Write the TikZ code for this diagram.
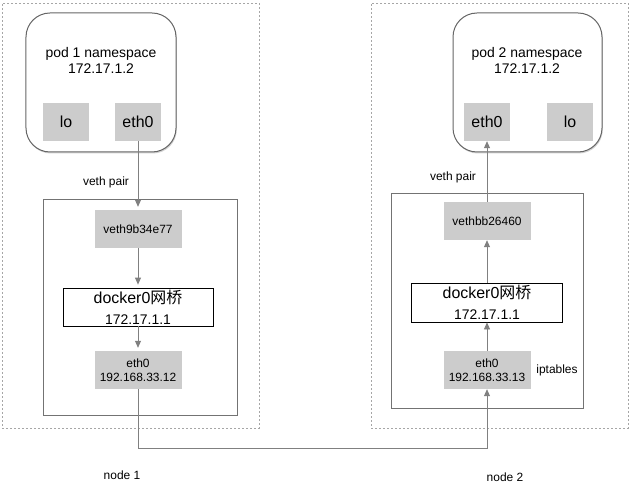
\documentclass[tikz,border=0pt]{standalone}
\usepackage{fontspec}
\setmainfont{Liberation Sans}
\newfontfamily\cjk{Noto Sans CJK SC}
\usetikzlibrary{arrows.meta,shadows}
\begin{document}
\begin{tikzpicture}[x=1bp,y=-1bp,
  outerbox/.style={draw=black!35, dash pattern=on 2bp off 2bp, line width=0.6bp, inner sep=0},
  podbox/.style={draw=black!60, line width=1bp, rounded corners=24bp, fill=white, inner sep=0,
    drop shadow={shadow xshift=0.8bp, shadow yshift=-1.5bp, fill=black!30, opacity=0.6}},
  hostbox/.style={draw=black!55, line width=0.8bp, inner sep=0},
  gbox/.style={fill=black!20, draw=none, inner sep=0, minimum width=46bp, minimum height=38bp, font=\fontsize{16}{19}\selectfont},
  ifbox/.style={fill=black!20, draw=none, inner sep=0, minimum width=87bp, minimum height=38bp, align=center, font=\fontsize{12}{14}\selectfont},
  bridge/.style={draw=black, line width=0.8bp, fill=white, inner sep=0, minimum width=150bp, minimum height=38bp, align=center, font=\fontsize{16}{21}\selectfont},
  lbl/.style={inner sep=0, font=\fontsize{12}{14}\selectfont},
  podtxt/.style={inner sep=0, align=center, font=\fontsize{14}{16}\selectfont},
  conn/.style={draw=black!50, line width=0.8bp, -{Triangle[length=7bp,width=6bp]}}
]
\useasboundingbox (0,0) rectangle (629,501);
% outer node areas
\node[outerbox, minimum width=257bp, minimum height=425bp] (outer1) at (130.5,215.5) {};
\node[outerbox, minimum width=257bp, minimum height=425bp] (outer2) at (499.5,215.5) {};
% pods
\node[podbox, minimum width=150bp, minimum height=139bp] (pod1) at (101,82.5) {};
\node[podbox, minimum width=149bp, minimum height=139bp] (pod2) at (527.5,82.5) {};
\node[podtxt] (pod1t) at (101,60) {pod 1 namespace\\172.17.1.2};
\node[podtxt] (pod2t) at (527,60) {pod 2 namespace\\172.17.1.2};
\node[gbox] (lo1) at (66,122) {lo};
\node[gbox] (pe1) at (138,122) {eth0};
\node[gbox] (pe2) at (487,122) {eth0};
\node[gbox] (lo2) at (570,122) {lo};
% veth pair labels
\node[lbl] (vp1) at (106,182) {veth pair};
\node[lbl] (vp2) at (453,177) {veth pair};
% host boxes
\node[hostbox, minimum width=194bp, minimum height=216bp] (host1) at (140,307) {};
\node[hostbox, minimum width=192bp, minimum height=215bp] (host2) at (487,300.5) {};
% left host contents
\node[ifbox] (veth1) at (138,229) {veth9b34e77};
\node[bridge] (br1) at (138,307) {docker0{\cjk 网桥}\\{\fontsize{14}{16}\selectfont 172.17.1.1}};
\node[ifbox] (eth1) at (138,370) {eth0\\192.168.33.12};
% right host contents
\node[ifbox] (veth2) at (487,221) {vethbb26460};
\node[bridge, minimum width=151bp, minimum height=39bp] (br2) at (487,302.5) {docker0{\cjk 网桥}\\{\fontsize{14}{16}\selectfont 172.17.1.1}};
\node[ifbox] (eth2) at (487,370) {eth0\\192.168.33.13};
\node[lbl] (ipt) at (557,370) {iptables};
% node labels
\node[lbl] (n1) at (122,475) {node 1};
\node[lbl] (n2) at (505,477) {node 2};
% connectors
\draw[conn, shorten >=3bp] (pe1.south) -- (veth1.north);
\draw[conn, shorten >=3bp] (veth1.south) -- (br1.north);
\draw[conn, shorten >=3bp] (br1.south) -- (eth1.north);
\coordinate (turn) at (138,448);
\draw[conn] (eth1.south) -- (turn) -| (eth2.south);
\draw[conn] (eth2.north) -- (br2.south);
\draw[conn] (br2.north) -- (veth2.south);
\draw[conn] (veth2.north) -- (pe2.south);
\end{tikzpicture}
\end{document}
